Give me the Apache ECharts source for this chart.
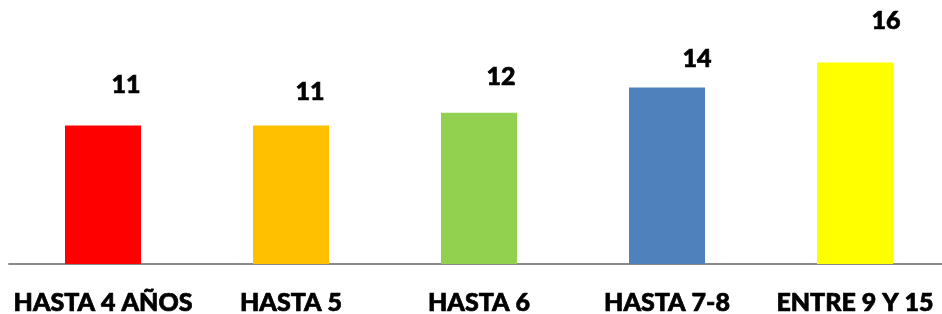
<!DOCTYPE html>
<html>
<head>
<meta charset="utf-8">
<script src="https://cdn.jsdelivr.net/npm/echarts@6/dist/echarts.min.js"></script>
<style>
  html, body { margin: 0; padding: 0; background: #fff; }
  #chart { width: 942px; height: 314px; }
</style>
</head>
<body>
<div id="chart"></div>
<script>
// categories and values
const categories = ['HASTA 4 AÑOS', 'HASTA 5', 'HASTA 6', 'HASTA 7-8', 'ENTRE 9 Y 15'];
const values = [11, 11, 12, 14, 16];
const colors = ['#ff0000', '#ffc000', '#92d050', '#4f81bd', '#ffff00'];
// label nudges (px) as they sit in the original
const labelShift = [[23, -40], [19, -33], [22, -36], [30, -29], [31, -41]];

let chart = echarts.init(document.getElementById('chart'));

let data = values.map(function (v, i) {
    return {
        value: v,
        itemStyle: { color: colors[i] },
        label: { offset: labelShift[i] }
    };
});

// heavy bold text like the original
let heavyText = {
    color: '#000',
    fontFamily: 'Lato',
    fontWeight: 900,
    fontSize: 25,
    textBorderColor: '#000',
    textBorderWidth: 0.7
};

let option = {
    animation: false,
    grid: {
        left: 9,
        top: 12,
        width: 940,
        height: 252,
        containLabel: false,
        outerBoundsMode: 'none'
    },
    xAxis: {
        type: 'category',
        data: categories,
        axisLine: { lineStyle: { color: '#898989', width: 2 } },
        axisTick: { show: false },
        axisLabel: Object.assign({ margin: 26, interval: 0 }, heavyText)
    },
    yAxis: {
        type: 'value',
        min: 0,
        max: 20,
        show: false,
        splitLine: { show: false }
    },
    series: [{
        type: 'bar',
        data: data,
        barWidth: 76,
        label: Object.assign({
            show: true,
            position: 'top',
            distance: 0,
            verticalAlign: 'middle'
        }, heavyText)
    }]
};

chart.setOption(option);
</script>
</body>
</html>
